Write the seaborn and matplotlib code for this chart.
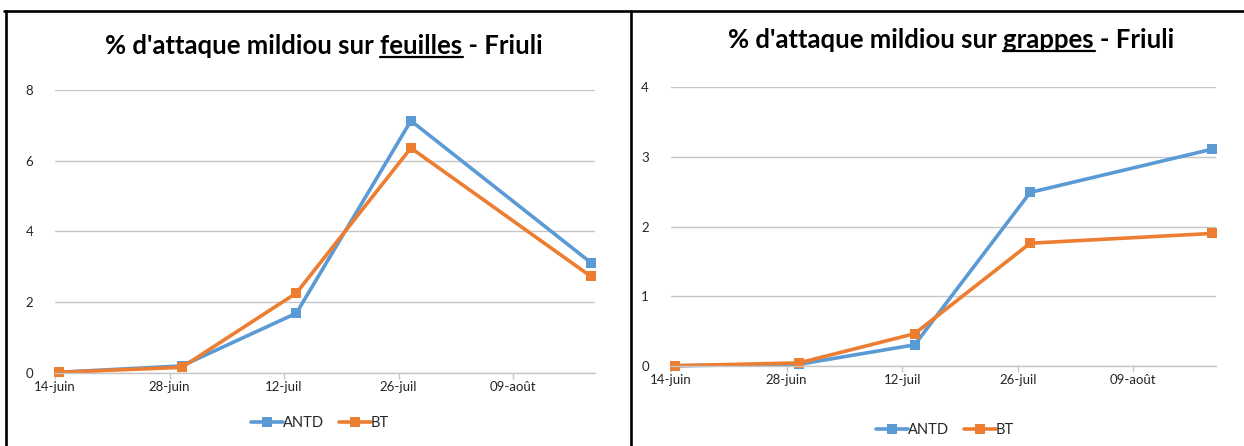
import matplotlib
matplotlib.use("Agg")
import matplotlib.pyplot as plt
import matplotlib.lines as mlines
import seaborn as sns
import pandas as pd

# ---- data ----
dates = ["2017-06-14", "2017-06-29", "2017-07-13", "2017-07-27", "2017-08-18"]
antd_feuilles = [0.02, 0.20, 1.69, 7.13, 3.12]
bt_feuilles = [0.02, 0.16, 2.26, 6.36, 2.73]
antd_grappes = [0.0, 0.02, 0.30, 2.49, 3.11]
bt_grappes = [0.0, 0.04, 0.46, 1.76, 1.90]
series_names = ["ANTD", "BT"]
tick_dates = ["2017-06-14", "2017-06-28", "2017-07-12", "2017-07-26", "2017-08-09"]
tick_labels = ["14-juin", "28-juin", "12-juil", "26-juil", "09-août"]
x_end = "2017-08-19"

sns.set_theme(style="white")
plt.rcParams["font.family"] = ["Lato", "DejaVu Sans"]

W, H = 1244, 446
fig = plt.figure(figsize=(W / 100, H / 100), dpi=100)

palette = {"ANTD": "#5B9BD5", "BT": "#ED7D31"}
TFS = 18.5


def make_df(a, b):
    d = pd.to_datetime(dates) + pd.Timedelta(hours=12)
    return pd.DataFrame({
        "date": list(d) * 2,
        "val": list(a) + list(b),
        "serie": [series_names[0]] * len(a) + [series_names[1]] * len(b),
    })


def px_rect(x0, x1, ytop, ybot):
    return [x0 / W, 1 - ybot / H, (x1 - x0) / W, (ybot - ytop) / H]


def draw_panel(rect, df, ymax, yticks, title_parts, title_xy, legend_xy, ypad):
    ax = fig.add_axes(rect)
    sns.lineplot(data=df, x="date", y="val", hue="serie", hue_order=series_names,
                 palette=palette, marker="s", markersize=6.5, markeredgewidth=0,
                 linewidth=2.6, ax=ax, legend=False, clip_on=False)
    ax.set_xlim(pd.Timestamp(dates[0]), pd.Timestamp(x_end))
    ax.set_ylim(0, ymax)
    ax.set_yticks(yticks)
    ax.set_yticklabels([str(v) for v in yticks])
    ax.set_xticks(pd.to_datetime(tick_dates))
    ax.set_xticklabels(tick_labels)
    ax.set_xlabel("")
    ax.set_ylabel("")
    ax.grid(axis="y", color="#c6c6c6", linewidth=1.0)
    ax.grid(axis="x", visible=False)
    for s in ["top", "right", "left"]:
        ax.spines[s].set_visible(False)
    ax.spines["bottom"].set_color("#c6c6c6")
    ax.spines["bottom"].set_linewidth(1.0)
    ax.set_axisbelow(True)
    ax.tick_params(axis="x", bottom=True, length=4, width=1, color="#c6c6c6",
                   labelsize=9.5, labelcolor="#262626", pad=2)
    ax.tick_params(axis="y", left=False, labelsize=9.5, labelcolor="#262626", pad=ypad)

    # title with underlined word
    pre, word, post = title_parts
    full = pre + word + post
    tx, ty = title_xy
    t = fig.text(tx / W, 1 - ty / H, full, ha="center", va="center",
                 fontsize=TFS, fontweight="bold", color="black")
    fig.canvas.draw()
    r = fig.canvas.get_renderer()
    bb = t.get_window_extent(r)
    tmp1 = fig.text(0, 0, pre + word, fontsize=TFS, fontweight="bold")
    tmp2 = fig.text(0, 0, word, fontsize=TFS, fontweight="bold")
    w1 = tmp1.get_window_extent(r).width
    w2 = tmp2.get_window_extent(r).width
    tmp1.remove(); tmp2.remove()
    xe = bb.x0 + w1
    xs = xe - w2
    yline = bb.y0 + 1
    fig.add_artist(mlines.Line2D([xs / W, (xe + 1) / W], [yline / H, yline / H],
                                 color="black", linewidth=1.6, transform=fig.transFigure))

    handles = [mlines.Line2D([], [], color=palette[n], marker="s", markersize=6.5,
                             markeredgewidth=0, linewidth=2.6) for n in series_names]
    lx, ly = legend_xy
    fig.legend(handles, series_names, loc="center", bbox_to_anchor=(lx / W, 1 - ly / H),
               ncol=2, frameon=False, fontsize=10.5, handlelength=2.2, handletextpad=0.0,
               columnspacing=1.0, labelcolor="#262626")
    return ax


draw_panel(px_rect(55, 595, 90, 373), make_df(antd_feuilles, bt_feuilles), 8,
           [0, 2, 4, 6, 8], ("% d'attaque mildiou sur ", "feuilles", " - Friuli"),
           (324, 46), (320, 423), 9.5)
draw_panel(px_rect(671, 1216, 87.3, 365.7), make_df(antd_grappes, bt_grappes), 4,
           [0, 1, 2, 3, 4], ("% d'attaque mildiou sur ", "grappes", " - Friuli"),
           (951, 40), (945, 430), 10)

# frame lines
lw = 1.9
fig.add_artist(mlines.Line2D([4 / W, 1], [1 - 10.5 / H, 1 - 10.5 / H], color="black",
                             linewidth=lw, transform=fig.transFigure))
fig.add_artist(mlines.Line2D([5.5 / W, 5.5 / W], [0, 1 - 10.5 / H], color="black",
                             linewidth=lw, transform=fig.transFigure))
fig.add_artist(mlines.Line2D([631.5 / W, 631.5 / W], [0, 1 - 10.5 / H], color="black",
                             linewidth=lw, transform=fig.transFigure))

fig.savefig("out.png", dpi=100, facecolor="white")
